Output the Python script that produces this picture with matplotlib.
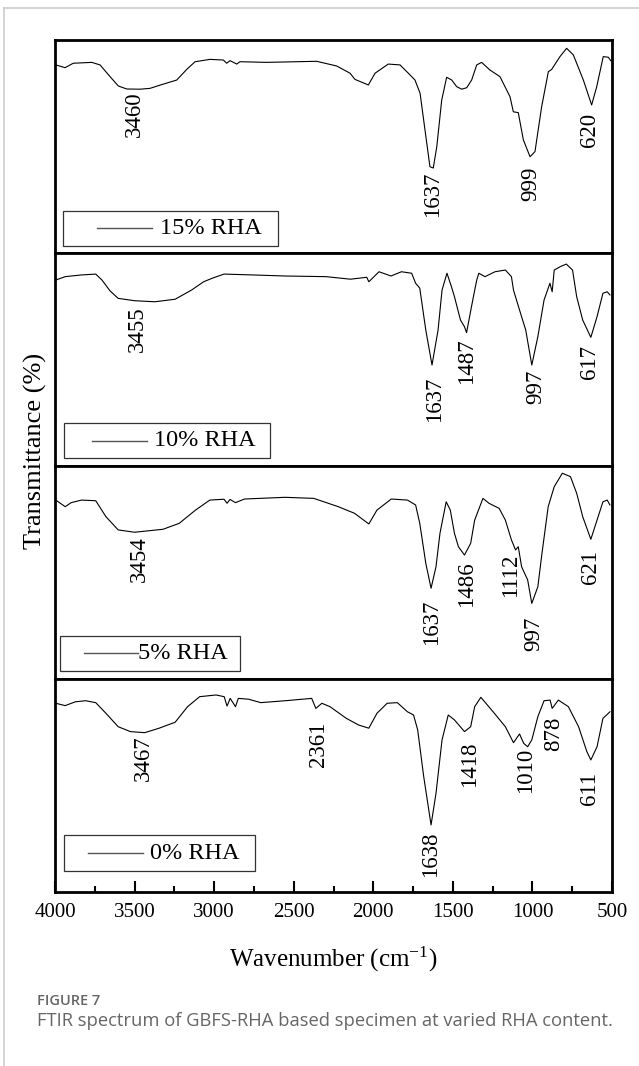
import matplotlib
matplotlib.use("Agg")
import matplotlib.pyplot as plt
from matplotlib.lines import Line2D
from matplotlib.patches import Rectangle
from matplotlib.ticker import MultipleLocator

plt.rcParams['font.family'] = ['Liberation Serif', 'DejaVu Serif']
plt.rcParams['mathtext.fontset'] = 'custom'
plt.rcParams['mathtext.rm'] = 'Liberation Serif'
plt.rcParams['mathtext.it'] = 'Liberation Serif:italic'

# ---------------- data ----------------
series_labels = ["15% RHA", "10% RHA", "5% RHA", "0% RHA"]

wn_15 = [3994, 3937, 3885, 3824, 3769, 3717, 3654, 3602, 3549, 3466, 3403, 3319, 3235, 3172, 3120,
         3026, 2942, 2921, 2900, 2858, 2838, 2670, 2356, 2230, 2146, 2115, 2031, 1989, 1906, 1832,
         1769, 1738, 1706, 1675, 1644, 1623, 1601, 1570, 1539, 1507, 1476, 1444, 1413, 1382, 1350,
         1319, 1267, 1204, 1141, 1120, 1089, 1057, 1015, 984, 942, 900, 879, 827, 785, 743,
         680, 628, 596, 555, 523, 508]
t_15 = [88.3, 87.0, 89.1, 89.3, 89.5, 88.3, 82.8, 78.4, 77.0, 76.9, 77.3, 79.3, 81.2, 86.2, 89.8,
        90.9, 90.6, 89.1, 90.3, 88.7, 89.8, 89.5, 90.0, 87.8, 84.4, 81.5, 78.9, 84.4, 88.7, 88.3,
        83.6, 81.2, 75.0, 57.7, 40.5, 39.9, 49.9, 71.8, 82.5, 81.2, 78.1, 76.9, 77.6, 81.2, 88.3,
        89.5, 85.9, 82.8, 73.4, 66.3, 65.9, 53.1, 45.2, 47.6, 68.7, 85.1, 86.2, 92.2, 96.1, 93.0,
        81.2, 69.5, 78.1, 92.2, 91.9, 90.3]

wn_10 = [3995, 3936, 3833, 3744, 3705, 3654, 3603, 3500, 3373, 3245, 3142, 3066, 3014, 2938, 2758,
         2555, 2297, 2144, 2041, 2028, 1964, 1889, 1823, 1759, 1734, 1708, 1670, 1631, 1593, 1568,
         1537, 1509, 1490, 1452, 1427, 1414, 1375, 1350, 1337, 1298, 1235, 1170, 1132, 1119, 1094,
         1042, 1004, 966, 927, 890, 876, 863, 825, 787, 748, 722, 684, 633, 594, 557,
         530, 513]
t_10 = [87.3, 88.9, 89.7, 90.1, 87.3, 82.2, 78.7, 77.6, 77.1, 78.3, 82.6, 86.5, 88.1, 90.1, 89.7,
        89.2, 88.9, 87.7, 88.6, 86.5, 91.2, 89.2, 91.2, 90.5, 85.8, 83.5, 63.8, 47.4, 63.8, 82.6,
        90.5, 84.2, 79.5, 68.5, 65.4, 62.6, 77.9, 87.3, 90.5, 88.9, 91.2, 92.0, 88.9, 82.6, 76.4,
        63.8, 47.4, 60.7, 77.9, 85.8, 81.8, 92.0, 93.6, 94.8, 92.0, 79.5, 68.5, 60.4, 70.1, 81.1,
        81.8, 80.3]

wn_5 = [3995, 3936, 3898, 3833, 3744, 3680, 3603, 3500, 3321, 3219, 3117, 3027, 2938, 2919, 2900,
        2866, 2809, 2555, 2374, 2220, 2118, 2028, 1977, 1887, 1785, 1734, 1708, 1670, 1637, 1606,
        1581, 1542, 1516, 1490, 1465, 1427, 1388, 1363, 1311, 1273, 1209, 1170, 1132, 1106, 1089,
        1068, 1030, 1004, 966, 940, 901, 863, 812, 761, 722, 684, 633, 594, 557, 530,
        513]
t_5 = [84.0, 80.9, 82.8, 84.0, 83.7, 76.2, 70.0, 68.9, 70.3, 73.1, 79.3, 84.0, 84.4, 82.5, 84.3,
       82.8, 84.5, 85.3, 84.8, 80.9, 77.8, 72.8, 79.3, 84.5, 84.0, 81.7, 73.1, 54.3, 42.6, 52.7,
       68.4, 83.2, 79.3, 68.4, 62.1, 58.2, 63.7, 74.6, 84.8, 82.5, 80.1, 74.6, 65.3, 60.6, 62.1,
       52.7, 46.5, 35.5, 43.3, 59.0, 80.9, 90.3, 96.6, 95.0, 87.2, 76.2, 65.6, 74.6, 83.2, 84.0,
       81.7]

wn_0 = [3995, 3936, 3872, 3808, 3744, 3680, 3603, 3526, 3436, 3346, 3245, 3167, 3091, 2988, 2937,
        2919, 2899, 2866, 2848, 2783, 2707, 2553, 2387, 2361, 2323, 2272, 2169, 2092, 2028, 1977,
        1913, 1849, 1785, 1747, 1721, 1683, 1637, 1606, 1568, 1529, 1490, 1427, 1388, 1363, 1324,
        1247, 1170, 1119, 1081, 1055, 1030, 1004, 966, 927, 889, 876, 837, 774, 710, 658,
        633, 594, 557, 513]
t_0 = [88.6, 87.5, 89.3, 89.8, 88.9, 83.9, 77.6, 75.3, 74.8, 76.9, 79.7, 87.0, 91.7, 92.5, 91.7,
       87.3, 90.9, 87.0, 90.9, 90.5, 88.9, 89.8, 90.9, 86.2, 88.6, 87.0, 81.5, 78.4, 76.9, 83.9,
       88.6, 88.9, 84.6, 83.1, 76.1, 54.1, 31.5, 46.3, 71.4, 83.1, 80.8, 75.3, 77.6, 87.0, 91.4,
       84.6, 77.6, 70.1, 74.2, 69.8, 68.2, 71.4, 82.3, 89.8, 90.1, 86.2, 90.1, 87.0, 77.6, 65.9,
       62.0, 68.2, 81.5, 84.6]

# peak annotations: text, wavenumber position in picture, top of text (transmittance units)
peaks_15_text = ["3460", "1637", "999", "620"]
peaks_15_x = [3500, 1628, 1011, 644]
peaks_15_y = [75.7, 38.2, 40.5, 65.6]

peaks_10_text = ["3455", "1637", "1487", "997", "617"]
peaks_10_x = [3480, 1618, 1417, 979, 644]
peaks_10_y = [74.8, 41.9, 60.0, 45.1, 56.8]

peaks_5_text = ["3454", "1637", "1486", "1112", "997", "621"]
peaks_5_x = [3472, 1637, 1411, 1135, 990, 635]
peaks_5_y = [66.8, 37.1, 55.1, 59.0, 29.2, 60.6]

peaks_0_text = ["3467", "2361", "1638", "1418", "1010", "878", "611"]
peaks_0_x = [3443, 2347, 1638, 1396, 1042, 866, 644]
peaks_0_y = [73.7, 80.0, 28.3, 70.6, 67.5, 82.3, 56.5]

x_ticks = [4000, 3500, 3000, 2500, 2000, 1500, 1000, 500]

# ---------------- figure ----------------
W, H = 639, 1066
fig = plt.figure(figsize=(W / 100, H / 100), dpi=100)

ax_left = 55 / W
ax_w = 557 / W
panel_h = 213 / H
tops = [40, 253, 466, 679]

series = [(wn_15, t_15, peaks_15_text, peaks_15_x, peaks_15_y),
          (wn_10, t_10, peaks_10_text, peaks_10_x, peaks_10_y),
          (wn_5, t_5, peaks_5_text, peaks_5_x, peaks_5_y),
          (wn_0, t_0, peaks_0_text, peaks_0_x, peaks_0_y)]

# legend layout (axes fractions): box x0, x1, y0, y1, line x0, x1, text x
legend_layout = [
    (0.0138, 0.4009, 0.034, 0.199, 0.0749, 0.1736, 0.1885),
    (0.0169, 0.3856, 0.036, 0.200, 0.0659, 0.1646, 0.1777),
    (0.0095, 0.3329, 0.038, 0.202, 0.0512, 0.1499, 0.1499),
    (0.0162, 0.3585, 0.100, 0.266, 0.0585, 0.1572, 0.1705),
]

axes = []
for i, (wn, t, ptxt, px, py) in enumerate(series):
    bottom = 1 - (tops[i] + 213) / H
    ax = fig.add_axes([ax_left, bottom, ax_w, panel_h])
    axes.append(ax)
    ax.plot(wn, t, color='black', lw=0.8)
    ax.set_xlim(4000, 500)
    ax.set_ylim(0, 100)
    ax.set_yticks([])
    for sp in ax.spines.values():
        sp.set_linewidth(2.0)
    for txt, x, y in zip(ptxt, px, py):
        ax.text(x, y, txt, rotation=90, ha='center', va='top', fontsize=16.5)
    bx0, bx1, by0, by1, lx0, lx1, tx = legend_layout[i]
    ax.add_patch(Rectangle((bx0, by0), bx1 - bx0, by1 - by0, transform=ax.transAxes,
                           fill=False, edgecolor='#333333', lw=0.9, zorder=5))
    ym = (by0 + by1) / 2
    ax.add_line(Line2D([lx0, lx1], [ym, ym], transform=ax.transAxes, color='#555555', lw=1.0))
    ax.text(tx, ym, series_labels[i], transform=ax.transAxes, ha='left', va='center',
            fontsize=17.5)
    if i < 3:
        ax.set_xticks([])
    else:
        ax.set_xticks(x_ticks)
        ax.xaxis.set_minor_locator(MultipleLocator(250))
        ax.tick_params(axis='x', which='major', direction='in', length=8, width=1.5,
                       labelsize=15, pad=8, top=False)
        ax.tick_params(axis='x', which='minor', direction='in', length=4, width=1.5, top=False)

fig.text(333 / W, 1 - 959 / H, 'Wavenumber (cm$^{-1}$)', ha='center', va='center', fontsize=18)
fig.text(35 / W, 1 - 451 / H, 'Transmittance (%)', ha='center', va='center', rotation=90,
         fontsize=19)

cap_font = ['Open Sans', 'DejaVu Sans']
fig.text(37 / W, 1 - 1001 / H, 'FIGURE 7', ha='left', va='center', fontsize=10.5,
         family=cap_font, color='#666666', fontweight='semibold')
fig.text(37 / W, 1 - 1021 / H, 'FTIR spectrum of GBFS-RHA based specimen at varied RHA content.',
         ha='left', va='center', fontsize=13.2, family=cap_font, color='#666666')

# outer light frame
fig.add_artist(Line2D([4 / W, 4 / W], [0, 1 - 8 / H], transform=fig.transFigure,
                      color='#cccccc', lw=1.2))
fig.add_artist(Line2D([4 / W, 1], [1 - 8 / H, 1 - 8 / H], transform=fig.transFigure,
                      color='#cccccc', lw=1.2))

fig.savefig('out.png', dpi=100)
